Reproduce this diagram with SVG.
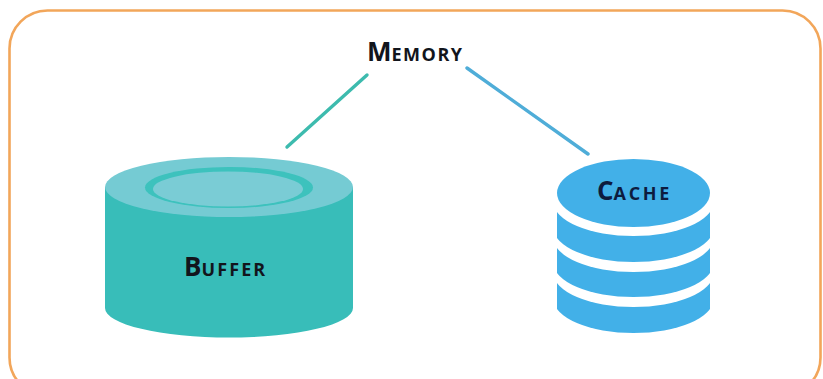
<svg xmlns="http://www.w3.org/2000/svg" width="823" height="379" viewBox="0 0 823 379">
<defs><filter id="soft" x="-5%" y="-5%" width="110%" height="110%"><feGaussianBlur stdDeviation="0.6"/></filter>
<clipPath id="cw"><rect x="557" y="150" width="153" height="190"/></clipPath></defs>
<style>
.lbl{font-family:"Open Sans","Noto Sans","Liberation Sans",sans-serif;font-weight:700;font-size:26px;fill:#12151c}
.sc{font-size:18px;text-transform:uppercase;letter-spacing:1.5px}
.teal{fill:#37bdb9}.blue{fill:#43b0e8}.white{fill:#fff}
.conn{fill:none;stroke-width:3.4;stroke-linecap:round}
</style>
<rect width="823" height="379" fill="#fff"/>
<rect id="frame" x="9.500" y="10.500" width="811" height="385" rx="38" ry="38" fill="none" stroke="#f2a65a" stroke-width="2.600" filter="url(#soft)"/>
<g id="connectors" filter="url(#soft)">
<line class="conn" x1="287" y1="147" x2="367" y2="75" stroke="#3dbbae"/>
<line class="conn" x1="467" y1="68" x2="588" y2="154" stroke="#4fadd8"/>
</g>
<g id="memory"><text class="lbl" x="367" y="61">M<tspan class="sc">emory</tspan></text></g>
<g id="buffer">
<g filter="url(#soft)">
<path class="teal" d="M105 187V308A124 29.500 0 0 0 353 308V187Z"/>
<ellipse cx="229" cy="187" rx="124" ry="30" fill="#74cbd3"/>
<ellipse cx="229" cy="187.500" rx="84" ry="20.500" fill="#3cc2bd"/>
<ellipse cx="228" cy="189" rx="75" ry="17.500" fill="#7accd5"/>
</g>
<text class="lbl" x="184" y="276">B<tspan class="sc" style="letter-spacing:2.100px">uffer</tspan></text>
</g>
<g id="cache">
<g filter="url(#soft)"><g clip-path="url(#cw)">
<ellipse class="blue" cx="633.500" cy="299" rx="80" ry="34"/>
<rect class="blue" x="557" y="270" width="153" height="29"/>
<ellipse class="white" cx="633.500" cy="273" rx="80" ry="34"/>
<ellipse class="blue" cx="633.500" cy="263" rx="80" ry="34"/>
<rect class="blue" x="557" y="236" width="153" height="27"/>
<ellipse class="white" cx="633.500" cy="238" rx="80" ry="34"/>
<ellipse class="blue" cx="633.500" cy="228" rx="80" ry="34"/>
<rect class="blue" x="557" y="200" width="153" height="28"/>
<ellipse class="white" cx="633.500" cy="202" rx="80" ry="34"/>
</g>
<ellipse class="white" cx="633.500" cy="193" rx="77" ry="34.500"/>
<ellipse class="blue" cx="633.500" cy="193" rx="76.500" ry="34"/>
</g>
<text class="lbl" x="597" y="200" style="fill:#0d1b3e">C<tspan class="sc" style="letter-spacing:2.700px">ache</tspan></text>
</g>
</svg>
